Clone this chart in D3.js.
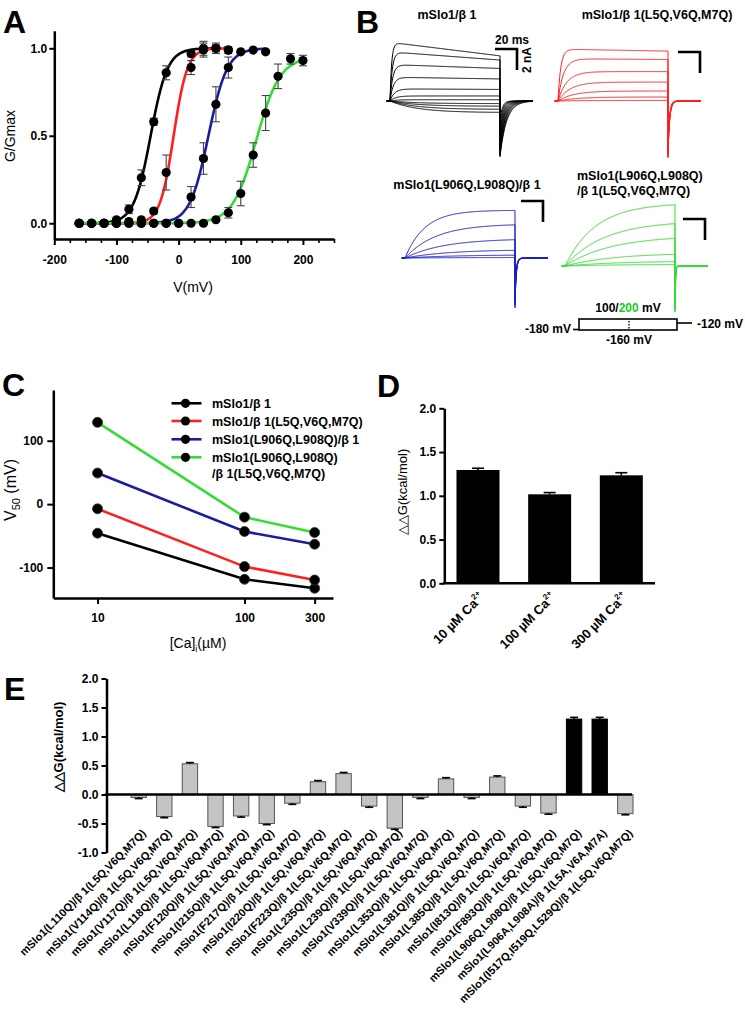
<!DOCTYPE html>
<html><head><meta charset="utf-8">
<script src="https://cdn.jsdelivr.net/npm/d3@7"></script>
<style>body{margin:0;background:#fff}svg{display:block}</style>
</head><body><svg id="c" width="745" height="1017"></svg>
<script>
// ================= DATA =================
// Panel A: G/Gmax vs V (mV)
const aVolt = [-160,-140,-120,-100,-80,-60,-40,-20,0,20,40,60,80,100,120,140,160,180,200];
const aSeries = ["mSlo1/β 1","mSlo1/β 1(L5Q,V6Q,M7Q)","mSlo1(L906Q,L908Q)/β 1","mSlo1(L906Q,L908Q)/β 1(L5Q,V6Q,M7Q)"];
const aG_wt   = [0,0,0,0.02,0.08,0.26,0.58,0.86,null,0.97,1.0,1.0,0.99,null,null,null,null,null,null];
const aE_wt   = [0,0,0,0.01,0.025,0.045,0.02,0.04,null,0.02,0.04,0.03,0.02,null,null,null,null,null,null];
const aG_b1m  = [0,0,0,0,0.01,0.02,0.07,0.29,null,0.89,0.99,1.0,0.99,null,null,null,null,null,null];
const aE_b1m  = [0,0,0,0,0,0.01,0.015,0.1,null,0.04,0.04,0.02,0.01,null,null,null,null,null,null];
const aG_slo  = [0,0,0,0,0,0,0,0,0,0.15,0.37,0.68,0.89,0.98,0.99,0.98,null,null,null];
const aE_slo  = [0,0,0,0,0,0,0,0,0,0.06,0.09,0.1,0.06,0.01,0.01,0.01,null,null,null];
const aG_dbl  = [0,0,0,0,0,0,0,0,0,0,0,0.02,0.06,0.17,0.39,0.63,0.84,0.94,0.93];
const aE_dbl  = [0,0,0,0,0,0,0,0,0,0,0,0.01,0.03,0.07,0.07,0.1,0.07,0.03,0.03];
// Boltzmann fits
const aFitV50 = [-45,-8,48,125];
const aFitK   = [13.5,11,15,19];
const aFitMax = [1,1,1,0.95];
const aFitTo  = [60,80,140,200];

// Panel B: current traces (nA, ms)
const bPulseMs = 100, bTailMs = 30;
const bTitles = ["mSlo1/β 1","mSlo1/β 1(L5Q,V6Q,M7Q)","mSlo1(L906Q,L908Q)/β 1",["mSlo1(L906Q,L908Q)","/β 1(L5Q,V6Q,M7Q)"]];
const bBlackIss  = [4.3,3.9,3.1,2.1,1.1,0.48,0.12,-0.25,-0.5,-0.8,-1.1];
const bBlackTau  = [1.5,2,2.5,3,4,5,6,25,25,25,25];
const bBlackSag  = [0.3,0.2,0.12,0.08,0.05,0,0,0,0,0,0];
const bBlackTail = [-5.3,-5.2,-5.0,-4.8,-4.6,-4.3,-4.0,-3.6,-3.2,-2.6,-2.0];
const bBlackTailTau = [6,5.5,5,4.6,4.2,3.8,3.4,3,2.6,2.3,2];
const bRedIss  = [4.75,3.95,2.8,1.8,0.95,0.38,0.05];
const bRedTau  = [2.5,5,8,11,14,18,20];
const bRedSag  = [0.04,0.02,0,0,0,0,0];
const bRedTail = [-5.4,-5.3,-5.1,-4.9,-4.6,-4.1,-3.2];
const bRedTailTau = [1.2,1.3,1.4,1.5,1.6,1.7,1.8];
const bBlueIss  = [4.55,3.25,1.85,0.8,0.3,0.05];
const bBlueTau  = [18,28,35,40,45,50];
const bBlueTail = [-4.75,-4.5,-4.2,-3.7,-3.0,-2.0];
const bBlueTailTau = [1,1.1,1.2,1.3,1.4,1.5];
const bGreenIss  = [6.0,4.3,2.9,1.25,0.48,0.16];
const bGreenTau  = [28,36,42,45,50,50];
const bGreenTail = [-4.4,-4.2,-4.0,-3.6,-3.0,-2.0];
const bGreenTailTau = [0.5,0.5,0.5,0.5,0.5,0.5];
const bScaleMs = 20, bScaleNA = 2;

// Panel C: V50 vs [Ca]i
const cCa = [10,100,300];
const cV50_wt  = [-45.8,-118.5,-132.7];
const cV50_b1m = [-7.4,-98.5,-119.6];
const cV50_slo = [49,-43.2,-63.2];
const cV50_dbl = [129,-20.5,-44.8];
const cLegend = ["mSlo1/β 1","mSlo1/β 1(L5Q,V6Q,M7Q)","mSlo1(L906Q,L908Q)/β 1",["mSlo1(L906Q,L908Q)","/β 1(L5Q,V6Q,M7Q)"]];
const cTicks = [10,100,300];

// Panel D
const dCats = ["10 µM Ca","100 µM Ca","300 µM Ca"];
const dValues = [1.295,1.017,1.234];
const dErrors = [0.02,0.02,0.03];

// Panel E
const eLabels = [
 "mSlo1(L110Q)/β 1(L5Q,V6Q,M7Q)","mSlo1(V114Q)/β 1(L5Q,V6Q,M7Q)","mSlo1(V117Q)/β 1(L5Q,V6Q,M7Q)",
 "mSlo1(L118Q)/β 1(L5Q,V6Q,M7Q)","mSlo1(F120Q)/β 1(L5Q,V6Q,M7Q)","mSlo1(I215Q)/β 1(L5Q,V6Q,M7Q)",
 "mSlo1(F217Q)/β 1(L5Q,V6Q,M7Q)","mSlo1(I220Q)/β 1(L5Q,V6Q,M7Q)","mSlo1(F223Q)/β 1(L5Q,V6Q,M7Q)",
 "mSlo1(L235Q)/β 1(L5Q,V6Q,M7Q)","mSlo1(L239Q)/β 1(L5Q,V6Q,M7Q)","mSlo1(V339Q)/β 1(L5Q,V6Q,M7Q)",
 "mSlo1(L353Q)/β 1(L5Q,V6Q,M7Q)","mSlo1(L381Q)/β 1(L5Q,V6Q,M7Q)","mSlo1(L385Q)/β 1(L5Q,V6Q,M7Q)",
 "mSlo1(I813Q)/β 1(L5Q,V6Q,M7Q)","mSlo1(F893Q)/β 1(L5Q,V6Q,M7Q)","mSlo1(L906Q,L908Q)/β 1(L5Q,V6Q,M7Q)",
 "mSlo1(L906A,L908A)/β 1(L5A,V6A,M7A)","mSlo1(I517Q,I519Q,L529Q)/β 1(L5Q,V6Q,M7Q)"];
const eValues = [-0.05,-0.38,0.53,-0.55,-0.37,-0.50,-0.15,0.22,0.36,-0.20,-0.58,-0.05,0.27,-0.05,0.30,-0.20,-0.32,1.30,1.30,-0.33];
const eErrors = [0.02,0.02,0.02,0.02,0.02,0.02,0.02,0.02,0.02,0.02,0.02,0.02,0.02,0.02,0.02,0.02,0.02,0.03,0.03,0.02];
const eGroup  = ["m","m","m","m","m","m","m","m","m","m","m","m","m","m","m","m","m","r","r","m"];

// ================= DRAWING =================
const FONT = '"Liberation Sans", Arial, Helvetica, sans-serif';
const COL = ["#000000","#ff1f1f","#1c1ca0","#33dd33"];
const svg = d3.select("#c").attr("font-family", FONT);
svg.append("rect").attr("width",745).attr("height",1017).attr("fill","#fff");

function styleAxis(g, w, fs) {
  g.select(".domain").attr("stroke","#000").attr("stroke-width",w||2.5);
  g.selectAll(".tick line").attr("stroke","#000").attr("stroke-width",2);
  g.selectAll(".tick text").attr("font-family",FONT).attr("font-weight","bold").attr("font-size",fs||12).attr("fill","#000");
}
function letter(t,x,y){ svg.append("text").attr("x",x).attr("y",y).attr("font-size",32).attr("font-weight","bold").text(t); }

letter("A",3,33); letter("B",356,33); letter("C",2,396); letter("D",377,397); letter("E",4,700);

// ---------- Panel A ----------
{
  const x = d3.scaleLinear().domain([-200,250]).range([54.3,334]);
  const y = d3.scaleLinear().domain([-0.09,1.1]).range([239,30.8]);
  const gx = svg.append("g").attr("transform","translate(0,239)")
    .call(d3.axisBottom(x).tickValues([-200,-100,0,100,200]).tickFormat(d=>String(d)).tickSize(6).tickSizeOuter(0).tickPadding(10));
  styleAxis(gx);
  const gm = svg.append("g").attr("transform","translate(0,239)")
    .call(d3.axisBottom(x).tickValues(d3.range(-175,251,25).filter(v=>v%100!==0)).tickFormat("").tickSize(4).tickSizeOuter(0));
  gm.select(".domain").remove(); gm.selectAll(".tick line").attr("stroke-width",1.6);
  const gy = svg.append("g").attr("transform","translate(54.3,0)")
    .call(d3.axisLeft(y).tickValues([0,0.5,1]).tickFormat(d=>d.toFixed(1)).tickSize(5).tickSizeOuter(0).tickPadding(2));
  styleAxis(gy);
  svg.append("text").attr("transform","translate(15,136) rotate(-90)").attr("text-anchor","middle").attr("font-size",14).text("G/Gmax");
  svg.append("text").attr("x",193).attr("y",292).attr("text-anchor","middle").attr("font-size",14).text("V(mV)");

  const gs = [aG_wt,aG_b1m,aG_slo,aG_dbl], es = [aE_wt,aE_b1m,aE_slo,aE_dbl];
  gs.forEach((_,i)=>{
    const vs = d3.range(-160, aFitTo[i]+0.5, 1);
    const line = d3.line().x(v=>x(v)).y(v=>y(aFitMax[i]/(1+Math.exp(-(v-aFitV50[i])/aFitK[i])))).curve(d3.curveLinear);
    svg.append("path").attr("d",line(vs)).attr("fill","none").attr("stroke",COL[i]).attr("stroke-width",2.6);
  });
  gs.forEach((g,i)=>{
    const pts = aVolt.map((v,j)=>({v,g:g[j],e:es[i][j]})).filter(p=>p.g!==null);
    const eb = svg.append("g").attr("stroke","#444").attr("stroke-width",1.1);
    pts.filter(p=>p.e>0.012).forEach(p=>{
      eb.append("line").attr("x1",x(p.v)).attr("x2",x(p.v)).attr("y1",y(p.g-p.e)).attr("y2",y(p.g+p.e));
      eb.append("line").attr("x1",x(p.v)-4).attr("x2",x(p.v)+4).attr("y1",y(p.g+p.e)).attr("y2",y(p.g+p.e));
      eb.append("line").attr("x1",x(p.v)-4).attr("x2",x(p.v)+4).attr("y1",y(p.g-p.e)).attr("y2",y(p.g-p.e));
    });
    svg.append("g").selectAll("circle").data(pts).join("circle")
      .attr("cx",p=>x(p.v)).attr("cy",p=>y(p.g)).attr("r",4.6).attr("fill","#000");
  });
}

// ---------- Panel B ----------
{
  const tx = d3.scaleLinear().domain([0,1]).range([0,1.1]);   // px per ms
  const iy = d3.scaleLinear().domain([0,1]).range([0,-10.5]); // px per nA
  function family(x0, y0, color, iss, tau, sag, tail, tailTau){
    const g = svg.append("g").attr("fill","none").attr("stroke",color).attr("stroke-width",1);
    iss.forEach((I,k)=>{
      const s = sag ? sag[k] : 0;
      const act = d3.range(0,bPulseMs+0.01,0.5).map(t=>[t, I*(1-Math.exp(-t/tau[k]))*(1+s*(1-t/bPulseMs))]);
      const tl = d3.range(0,bTailMs+0.01,0.25).map(t=>[bPulseMs+t, tail[k]*Math.exp(-t/tailTau[k])]);
      const pts = [[-3,0]].concat(act, tl);
      const line = d3.line().x(d=>x0+tx(d[0])).y(d=>y0+iy(d[1]));
      g.append("path").attr("d",line(pts));
    });
  }
  function scalebar(xc, yc){
    const g = svg.append("g").attr("stroke","#000").attr("stroke-width",2.6).attr("fill","none");
    g.append("path").attr("d",`M${xc-tx(bScaleMs)},${yc}H${xc}V${yc-iy(bScaleNA)}`);
  }
  family(390,101,"#000",bBlackIss,bBlackTau,bBlackSag,bBlackTail,bBlackTailTau);
  family(558,101,"#ff1f1f",bRedIss,bRedTau,bRedSag,bRedTail,bRedTailTau);
  family(405,258,"#1c1cc8",bBlueIss,bBlueTau,null,bBlueTail,bBlueTailTau);
  family(565,266,"#33dd33",bGreenIss,bGreenTau,null,bGreenTail,bGreenTailTau);
  scalebar(517,49); scalebar(700,52); scalebar(543,201); scalebar(705,219);
  svg.append("text").attr("x",512).attr("y",44).attr("text-anchor","middle").attr("font-size",12).attr("font-weight","bold").text(bScaleMs+" ms");
  svg.append("text").attr("transform","translate(531,60) rotate(-90)").attr("text-anchor","middle").attr("font-size",12).attr("font-weight","bold").text(bScaleNA+" nA");
  const tb = (t,x,y,a)=>svg.append("text").attr("x",x).attr("y",y).attr("text-anchor",a||"middle").attr("font-size",12.5).attr("font-weight","bold").text(t);
  tb(bTitles[0],447,19); tb(bTitles[1],657,19); tb(bTitles[2],467,189);
  tb(bTitles[3][0],577,180,"start"); tb(bTitles[3][1],577,195,"start");
  // voltage protocol schematic
  const p = svg.append("g").attr("stroke","#000").attr("fill","none").attr("stroke-width",1.6);
  p.append("rect").attr("x",579).attr("y",319).attr("width",98).attr("height",11);
  p.append("line").attr("x1",573).attr("x2",579).attr("y1",329.5).attr("y2",329.5);
  p.append("line").attr("x1",677).attr("x2",692).attr("y1",323).attr("y2",323);
  p.append("line").attr("x1",629).attr("x2",629).attr("y1",321).attr("y2",329).attr("stroke-dasharray","1.5,1.5").attr("stroke-width",1.4);
  const pt = svg.append("text").attr("x",628).attr("y",312).attr("text-anchor","middle").attr("font-size",12).attr("font-weight","bold");
  pt.append("tspan").text("100/"); pt.append("tspan").attr("fill","#22cc22").text("200"); pt.append("tspan").text(" mV");
  svg.append("text").attr("x",571).attr("y",333).attr("text-anchor","end").attr("font-size",12).attr("font-weight","bold").text("-180 mV");
  svg.append("text").attr("x",697).attr("y",328).attr("font-size",12).attr("font-weight","bold").text("-120 mV");
  svg.append("text").attr("x",629).attr("y",344).attr("text-anchor","middle").attr("font-size",12).attr("font-weight","bold").text("-160 mV");
}

// ---------- Panel C ----------
{
  const x = d3.scaleLog().domain([5,400]).range([53.3,333]);
  const y = d3.scaleLinear().domain([-148,180]).range([598,390]);
  const gx = svg.append("g").attr("transform","translate(0,598)")
    .call(d3.axisBottom(x).tickValues(cTicks).tickFormat(d=>String(d)).tickSize(6).tickSizeOuter(0).tickPadding(9));
  styleAxis(gx);
  const gy = svg.append("g").attr("transform","translate(53.3,0)")
    .call(d3.axisLeft(y).tickValues([-100,0,100]).tickFormat(d=>String(d)).tickSize(6).tickSizeOuter(0).tickPadding(4));
  styleAxis(gy);
  const yl = svg.append("text").attr("transform","translate(16,490) rotate(-90)").attr("text-anchor","middle").attr("font-size",16);
  yl.append("tspan").text("V"); yl.append("tspan").attr("font-size",11).attr("dy",4).text("50"); yl.append("tspan").attr("dy",-4).text(" (mV)");
  const xl = svg.append("text").attr("x",198).attr("y",648).attr("text-anchor","middle").attr("font-size",14);
  xl.append("tspan").text("[Ca]"); xl.append("tspan").attr("font-size",9).attr("dy",4).text("i"); xl.append("tspan").attr("dy",-4).text("(µM)");
  const series = [cV50_wt,cV50_b1m,cV50_slo,cV50_dbl];
  const line = d3.line().x(d=>x(d[0])).y(d=>y(d[1]));
  series.forEach((s,i)=>{
    const pts = cCa.map((c,j)=>[c,s[j]]);
    svg.append("path").attr("d",line(pts)).attr("fill","none").attr("stroke",COL[i]).attr("stroke-width",2.6);
  });
  series.forEach((s,i)=>{
    svg.append("g").selectAll("circle").data(cCa.map((c,j)=>[c,s[j]])).join("circle")
      .attr("cx",d=>x(d[0])).attr("cy",d=>y(d[1])).attr("r",5).attr("fill","#000").attr("stroke","#333").attr("stroke-width",0.8);
  });
  const rows = [403.3,421,439.3,457.3];
  cLegend.forEach((t,i)=>{
    const g = svg.append("g");
    g.append("line").attr("x1",171.5).attr("x2",201.5).attr("y1",rows[i]).attr("y2",rows[i]).attr("stroke",COL[i]).attr("stroke-width",2.6);
    g.append("circle").attr("cx",185.5).attr("cy",rows[i]).attr("r",4.6).attr("fill","#000");
    const lines = Array.isArray(t)?t:[t];
    lines.forEach((l,k)=>g.append("text").attr("x",212).attr("y",rows[i]+4.5+k*16).attr("font-size",12.5).attr("font-weight","bold").text(l));
  });
}

// ---------- Panel D ----------
{
  const x = d3.scaleBand().domain(dCats).range([444.3,655]).paddingInner(0.4).paddingOuter(0.17);
  const y = d3.scaleLinear().domain([0,2]).range([583.3,408.3]);
  const gy = svg.append("g").attr("transform","translate(444.3,0)")
    .call(d3.axisLeft(y).tickValues([0,0.5,1,1.5,2]).tickFormat(d=>d.toFixed(1)).tickSize(5).tickSizeOuter(0).tickPadding(3));
  styleAxis(gy);
  svg.append("g").selectAll("rect").data(dCats).join("rect")
    .attr("x",d=>x(d)).attr("width",x.bandwidth()).attr("y",(d,i)=>y(dValues[i])).attr("height",(d,i)=>y(0)-y(dValues[i])).attr("fill","#000");
  const eb = svg.append("g").attr("stroke","#000").attr("stroke-width",1.6);
  dCats.forEach((d,i)=>{
    const cx = x(d)+x.bandwidth()/2;
    eb.append("line").attr("x1",cx).attr("x2",cx).attr("y1",y(dValues[i])).attr("y2",y(dValues[i]+dErrors[i]));
    eb.append("line").attr("x1",cx-6).attr("x2",cx+6).attr("y1",y(dValues[i]+dErrors[i])).attr("y2",y(dValues[i]+dErrors[i]));
  });
  svg.append("line").attr("x1",443).attr("x2",655).attr("y1",583.3).attr("y2",583.3).attr("stroke","#000").attr("stroke-width",2.6);
  svg.append("text").attr("transform","translate(407,492) rotate(-90)").attr("text-anchor","middle").attr("font-size",13).text("△△G(kcal/mol)");
  dCats.forEach(d=>{
    const cx = x(d)+x.bandwidth()/2;
    const t = svg.append("text").attr("transform",`translate(${cx+7},598) rotate(-45)`).attr("text-anchor","end").attr("font-size",13).attr("font-weight","bold");
    t.append("tspan").text(d); t.append("tspan").attr("font-size",8).attr("dy",-6).text("2+");
  });
}

// ---------- Panel E ----------
{
  const x = d3.scaleBand().domain(eLabels).range([131,633]).paddingInner(0.4).paddingOuter(0);
  const y = d3.scaleLinear().domain([-1,2]).range([852.5,678.5]);
  const gy = svg.append("g").attr("transform","translate(106.5,0)")
    .call(d3.axisLeft(y).tickValues([-1,-0.5,0,0.5,1,1.5,2]).tickFormat(d=>d.toFixed(1)).tickSize(5).tickSizeOuter(0).tickPadding(3));
  styleAxis(gy);
  svg.append("g").selectAll("rect").data(eLabels).join("rect")
    .attr("x",d=>x(d)).attr("width",x.bandwidth())
    .attr("y",(d,i)=>y(Math.max(0,eValues[i]))).attr("height",(d,i)=>Math.abs(y(eValues[i])-y(0)))
    .attr("fill",(d,i)=>eGroup[i]==="r"?"#000":"#c4c4c4").attr("stroke",(d,i)=>eGroup[i]==="r"?"#000":"#555").attr("stroke-width",1);
  const eb = svg.append("g").attr("stroke","#000").attr("stroke-width",1.6);
  eLabels.forEach((d,i)=>{
    const cx = x(d)+x.bandwidth()/2, v = eValues[i], e = v>=0?eErrors[i]:-eErrors[i];
    eb.append("line").attr("x1",cx).attr("x2",cx).attr("y1",y(v)).attr("y2",y(v+e));
    eb.append("line").attr("x1",cx-4).attr("x2",cx+4).attr("y1",y(v+e)).attr("y2",y(v+e));
  });
  svg.append("line").attr("x1",105).attr("x2",632).attr("y1",y(0)).attr("y2",y(0)).attr("stroke","#000").attr("stroke-width",2.6);
  svg.append("text").attr("transform","translate(63,747) rotate(-90)").attr("text-anchor","middle").attr("font-size",13).attr("font-weight","bold").text("△△G(kcal/mol)");
  eLabels.forEach(d=>{
    const cx = x(d)+x.bandwidth()/2;
    svg.append("text").attr("transform",`translate(${cx+8},834) rotate(-45)`).attr("text-anchor","end").attr("font-size",11).attr("font-weight","bold").text(d);
  });
}
</script></body></html>
